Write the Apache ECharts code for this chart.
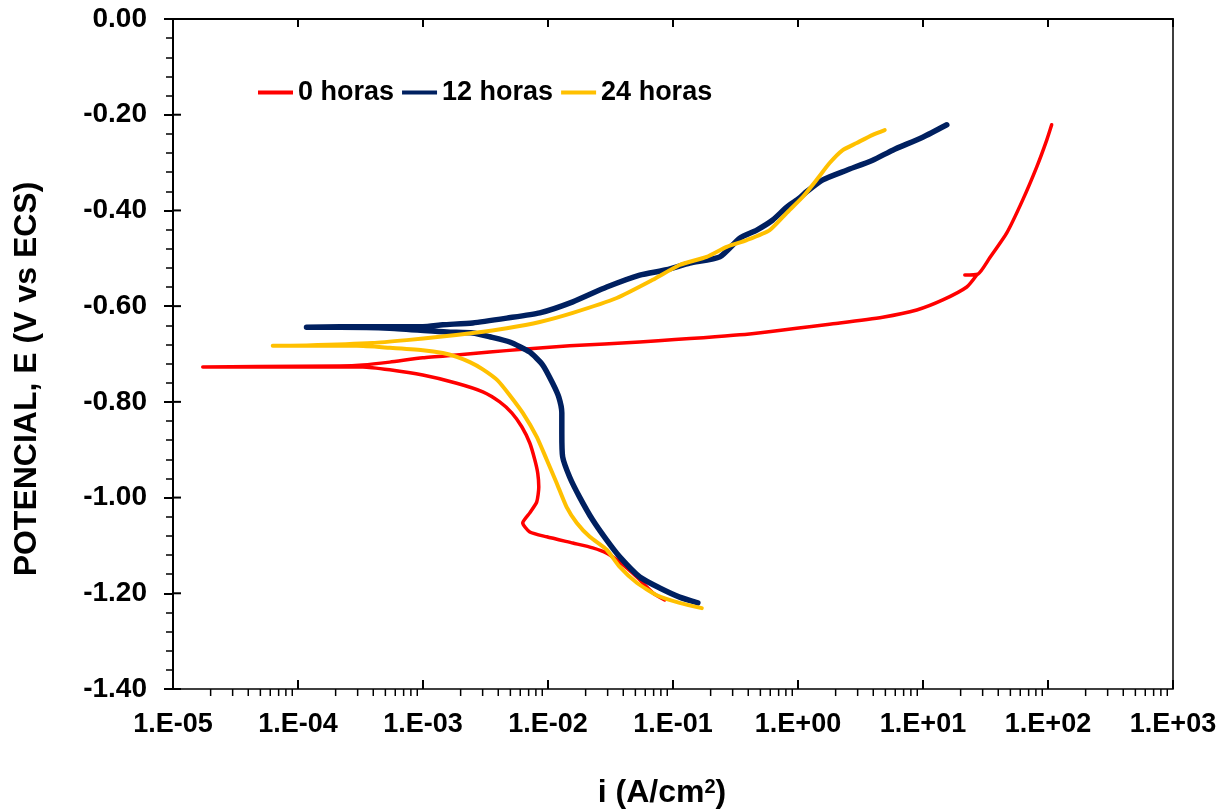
<!DOCTYPE html>
<html>
<head>
<meta charset="utf-8">
<script src="https://cdn.jsdelivr.net/npm/echarts@6/dist/echarts.min.js"></script>
<style>
  html, body { margin: 0; padding: 0; background: #fff; }
  #chart { width: 1231px; height: 812px; }
</style>
</head>
<body>
<div id="chart"></div>
<script>
// Polarization curves: current density i (A/cm2) vs potential E (V vs ECS)
const seriesNames = ['0 horas', '12 horas', '24 horas'];
const seriesColors = ['#FF0000', '#002060', '#FFC000'];

// 0 horas (scan from cathodic end through Ecorr to anodic end)
const i0 = [0.0859, 0.0689, 0.0513, 0.0375, 0.0295, 0.0228, 0.0158, 0.00977, 0.00715, 0.00628,
  0.00715, 0.00813, 0.00844, 0.00828, 0.00784, 0.00715, 0.00617, 0.00513, 0.00411, 0.00301,
  0.00186, 0.000996, 0.000542, 0.00033, 0.000158, 0.0000468, 0.0000173,
  0.0000468, 0.000216, 0.00033, 0.000542, 0.000996, 0.00186, 0.00342, 0.00628, 0.0149, 0.0542,
  0.342, 2.16, 4.76, 8.91, 14.4, 22.4, 26.9, 21.6, 27.5, 34.2, 46.8, 62.8, 81.3, 97.7, 107];
const e0 = [-1.214, -1.199, -1.166, -1.135, -1.116, -1.105, -1.095, -1.082, -1.072, -1.053,
  -1.032, -1.009, -0.978, -0.949, -0.921, -0.886, -0.852, -0.823, -0.800, -0.779,
  -0.761, -0.744, -0.733, -0.727, -0.727, -0.727, -0.727,
  -0.726, -0.725, -0.723, -0.717, -0.708, -0.702, -0.696, -0.690, -0.683, -0.675,
  -0.660, -0.635, -0.623, -0.608, -0.587, -0.560, -0.535, -0.535, -0.533, -0.499, -0.447, -0.378, -0.309, -0.253, -0.221];

// 12 horas
const i12 = [0.158, 0.113, 0.0783, 0.0542, 0.0375, 0.0295, 0.0228, 0.0179, 0.0149, 0.0131,
  0.0129, 0.0129, 0.0122, 0.0109, 0.00908, 0.00715, 0.00494, 0.00342, 0.0025, 0.00155,
  0.000542, 0.000216, 0.000117,
  0.000216, 0.000996, 0.00144, 0.0025, 0.00468, 0.00859, 0.0158, 0.0295, 0.0542, 0.0891,
  0.136, 0.237, 0.342, 0.468, 0.628, 0.813, 1.03, 1.17, 1.58, 2.45, 3.96, 5.73, 9.95, 15.5];
const e12 = [-1.220, -1.208, -1.189, -1.166, -1.124, -1.089, -1.047, -0.999, -0.957, -0.915,
  -0.865, -0.823, -0.790, -0.761, -0.723, -0.696, -0.675, -0.664, -0.656, -0.654,
  -0.646, -0.644, -0.644,
  -0.643, -0.643, -0.639, -0.635, -0.625, -0.614, -0.591, -0.560, -0.535, -0.524,
  -0.510, -0.497, -0.458, -0.441, -0.420, -0.393, -0.374, -0.361, -0.336, -0.316, -0.295, -0.274, -0.247, -0.221];

// 24 horas
const i24 = [0.170, 0.113, 0.0741, 0.0513, 0.0375, 0.0295, 0.0216, 0.0170, 0.0141, 0.0117,
  0.00977, 0.00813, 0.00628, 0.00494, 0.00395, 0.00301, 0.00237, 0.00186, 0.00144, 0.000996,
  0.000542, 0.000295, 0.000117, 0.0000628,
  0.000117, 0.000396, 0.000741, 0.00136, 0.0025, 0.00468, 0.00859, 0.0158, 0.0355, 0.0689,
  0.113, 0.186, 0.269, 0.389, 0.594, 0.813, 1.09, 1.41, 1.79, 2.28, 2.95, 3.96, 4.94];
const e24 = [-1.231, -1.220, -1.204, -1.178, -1.145, -1.109, -1.082, -1.053, -1.020, -0.969,
  -0.921, -0.873, -0.823, -0.786, -0.755, -0.732, -0.717, -0.706, -0.698, -0.692,
  -0.687, -0.683, -0.683, -0.683,
  -0.682, -0.677, -0.671, -0.664, -0.656, -0.646, -0.633, -0.614, -0.583, -0.545,
  -0.514, -0.497, -0.476, -0.462, -0.441, -0.405, -0.372, -0.336, -0.301, -0.274, -0.259, -0.242, -0.232];

// Axis settings
const xMin = 1e-5, xMax = 1e3;
const yMin = -1.4, yMax = 0, yStep = 0.2;
const xTitle = 'i (A/cm{sup|2})';
const yTitle = 'POTENCIAL, E (V vs ECS)';

const FONT = '"Liberation Sans", Arial, sans-serif';
const zip = (xs, ys) => xs.map((x, k) => [x, ys[k]]);
const seriesData = [zip(i0, e0), zip(i12, e12), zip(i24, e24)];
const lineWidths = [3.5, 5.5, 4];

function expLabel(v) {
  const p = Math.round(Math.log10(v));
  const s = p < 0 ? '-' : '+';
  const a = Math.abs(p);
  return '1.E' + s + (a < 10 ? '0' : '') + a;
}

const chart = echarts.init(document.getElementById('chart'), null, { renderer: 'canvas' });

const option = {
  animation: false,
  backgroundColor: '#fff',
  grid: { left: 173, right: 58, top: 19, bottom: 123, show: true, borderColor: '#000', borderWidth: 1.5, containLabel: false },
  legend: {
    data: seriesNames,
    left: 253,
    top: 74,
    icon: 'rect',
    itemWidth: 35,
    itemHeight: 4,
    itemGap: 8,
    textStyle: { fontFamily: FONT, fontWeight: 'bold', fontSize: 27, color: '#000' }
  },
  xAxis: {
    type: 'log',
    logBase: 10,
    min: xMin,
    max: xMax,
    interval: 1,
    splitNumber: 8,
    axisLine: { show: true, lineStyle: { color: '#000', width: 2 } },
    axisTick: { show: true, inside: false, length: 8, lineStyle: { color: '#000', width: 2 } },
    axisLabel: { show: true, margin: 22, color: '#000', fontFamily: FONT, fontWeight: 'bold', fontSize: 27, formatter: expLabel },
    splitLine: { show: false }
  },
  yAxis: {
    type: 'value',
    min: yMin,
    max: yMax,
    interval: yStep,
    axisLine: { show: true, lineStyle: { color: '#000', width: 2 } },
    axisTick: { show: true, inside: false, length: 9, lineStyle: { color: '#000', width: 2 } },
    minorTick: { show: true, splitNumber: 5, length: 7, lineStyle: { color: '#000', width: 1.5 } },
    axisLabel: { show: true, margin: 26, color: '#000', fontFamily: FONT, fontWeight: 'bold', fontSize: 28,
      formatter: v => (Math.abs(v) < 1e-9 ? 0 : v).toFixed(2) },
    splitLine: { show: false }
  },
  series: seriesNames.map((name, k) => ({
    name: name,
    type: 'line',
    data: seriesData[k],
    showSymbol: false,
    symbol: 'none',
    smooth: 0.2,
    color: seriesColors[k],
    lineStyle: { color: seriesColors[k], width: lineWidths[k], cap: 'round', join: 'round' },
    z: 2 + k
  }))
};

chart.setOption(option);

// Extra tick marks: log minor ticks (2..9 per decade) and the inner halves of the major ticks
const graphics = [];
const tick = (x1, y1, x2, y2, w) => graphics.push({
  type: 'line', silent: true, z: 10,
  shape: { x1, y1, x2, y2 }, style: { stroke: '#000', lineWidth: w }
});
const yBase = chart.convertToPixel({ yAxisIndex: 0 }, yMin);
const xBase = chart.convertToPixel({ xAxisIndex: 0 }, xMin);
for (let d = Math.log10(xMin); d <= Math.log10(xMax); d++) {
  const major = chart.convertToPixel({ xAxisIndex: 0 }, Math.pow(10, d));
  tick(major, yBase, major, yBase - 9, 2);
  if (d === Math.log10(xMax)) break;
  for (let m = 2; m <= 9; m++) {
    const px = chart.convertToPixel({ xAxisIndex: 0 }, m * Math.pow(10, d));
    tick(px, yBase, px, yBase + 7, 1.5);
  }
}
for (let v = yMin; v <= yMax + 1e-9; v += yStep) {
  const py = chart.convertToPixel({ yAxisIndex: 0 }, v);
  tick(xBase, py, xBase + 8, py, 2);
}
graphics.push({
  type: 'text', silent: true,
  x: 662, y: 793,
  style: {
    text: xTitle, x: 0, y: 0, align: 'center', verticalAlign: 'middle',
    fontFamily: FONT, fontWeight: 'bold', fontSize: 32, fill: '#000',
    rich: { sup: { fontFamily: FONT, fontWeight: 'bold', fontSize: 20, verticalAlign: 'top', padding: [0, 0, 12, 0], fill: '#000' } }
  }
});
graphics.push({
  type: 'text', silent: true,
  x: 27, y: 379, rotation: Math.PI / 2,
  style: {
    text: yTitle, x: 0, y: 0, align: 'center', verticalAlign: 'middle',
    fontFamily: FONT, fontWeight: 'bold', fontSize: 32, fill: '#000'
  }
});
chart.setOption({ graphic: graphics });
</script>
</body>
</html>
